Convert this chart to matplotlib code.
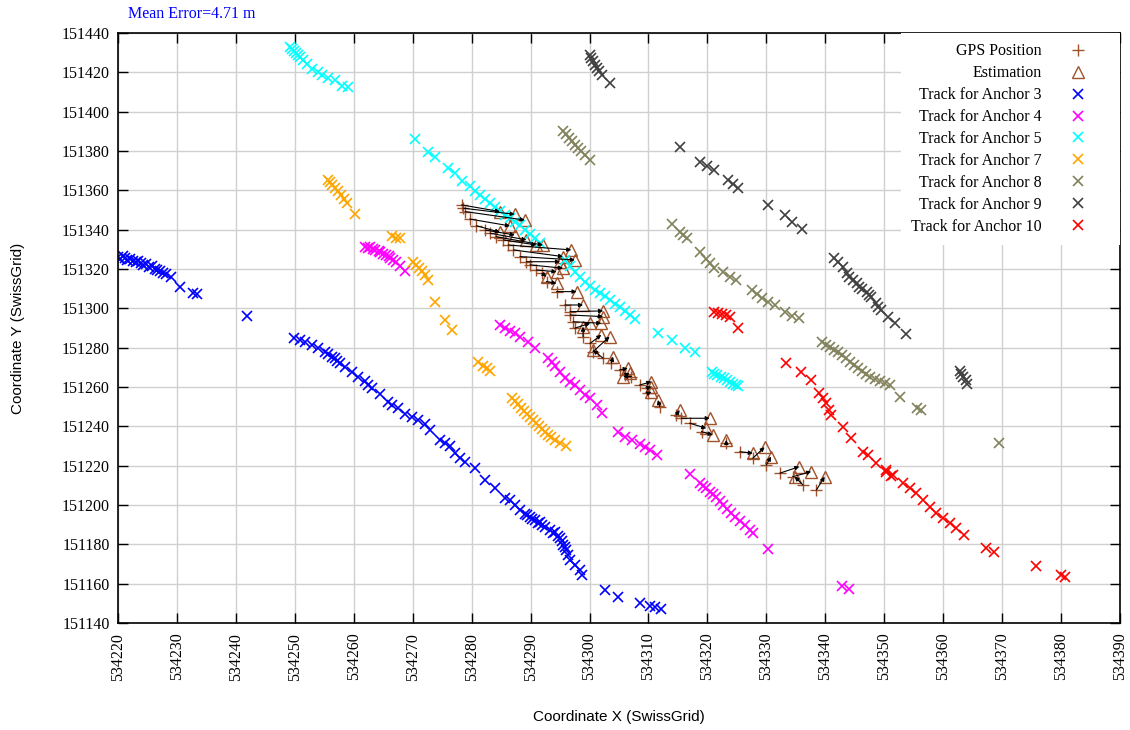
import numpy as np
import matplotlib
matplotlib.use("Agg")
import matplotlib.pyplot as plt

# GPS position -> estimated position (SwissGrid, m)
gps = [
    (534278.3, 151352.6), (534278.6, 151350.9), (534278.9, 151349.2), (534279.7, 151345.4),
    (534280.8, 151342.0), (534282.3, 151339.8), (534283.1, 151338.2), (534284.2, 151336.4),
    (534285.4, 151334.8), (534286.2, 151332.2), (534287.1, 151329.7), (534288.2, 151326.3),
    (534289.3, 151323.7), (534289.9, 151322.1), (534291.0, 151319.5), (534291.9, 151317.8),
    (534292.7, 151313.6), (534294.4, 151308.5), (534295.8, 151301.7), (534296.7, 151298.3),
    (534296.7, 151296.6), (534297.2, 151293.2), (534297.5, 151289.9), (534298.9, 151285.6),
    (534300.1, 151282.2), (534300.6, 151278.0), (534302.3, 151274.6), (534303.7, 151272.1),
    (534305.1, 151268.7), (534306.0, 151266.1), (534307.1, 151265.3), (534308.5, 151261.0),
    (534309.7, 151259.4), (534309.9, 151256.8), (534311.9, 151250.0), (534314.7, 151245.8),
    (534315.6, 151244.1), (534317.0, 151241.6), (534319.0, 151237.3), (534323.2, 151231.4),
    (534325.5, 151227.1), (534327.7, 151223.8), (534330.0, 151220.4), (534332.3, 151216.2),
    (534334.5, 151214.4), (534336.2, 151210.2), (534338.5, 151207.7),
]
est = [
    (534284.8, 151349.2), (534287.3, 151347.8), (534289.0, 151344.9), (534286.5, 151341.9),
    (534284.8, 151338.7), (534287.3, 151337.3), (534289.3, 151334.8), (534292.1, 151332.2),
    (534291.0, 151332.2), (534296.9, 151329.7), (534295.5, 151326.3), (534297.5, 151324.6),
    (534295.0, 151323.7), (534295.5, 151320.4), (534294.4, 151318.6), (534292.7, 151316.1),
    (534294.4, 151312.7), (534297.8, 151308.5), (534298.9, 151301.7), (534302.3, 151298.7),
    (534302.3, 151295.8), (534302.0, 151292.4), (534300.1, 151292.4), (534298.9, 151290.7),
    (534302.0, 151286.5), (534303.4, 151285.6), (534300.6, 151278.8), (534304.0, 151275.4),
    (534306.5, 151269.5), (534306.8, 151267.0), (534305.7, 151265.3), (534310.5, 151262.7),
    (534310.5, 151260.2), (534310.5, 151257.6), (534311.6, 151253.4), (534315.3, 151248.3),
    (534320.4, 151244.1), (534319.8, 151239.0), (534320.9, 151235.6), (534323.2, 151233.1),
    (534327.7, 151226.3), (534329.7, 151229.4), (534330.8, 151224.6), (534335.6, 151219.5),
    (534337.6, 151217.0), (534334.8, 151214.4), (534339.9, 151214.4),
]

anchor3 = [
    (534220.0, 151326.0), (534220.4, 151325.0), (534220.8, 151326.5), (534221.2, 151325.5),
    (534221.6, 151324.5), (534222.0, 151325.0), (534222.5, 151324.0), (534223.0, 151323.5),
    (534223.4, 151324.2), (534223.9, 151322.8), (534224.3, 151322.0), (534224.8, 151322.5),
    (534225.3, 151321.0), (534225.8, 151321.5), (534226.2, 151320.0), (534226.7, 151319.5),
    (534227.2, 151319.0), (534227.7, 151318.2), (534228.2, 151317.5), (534229.0, 151316.0),
    (534230.5, 151311.0), (534232.7, 151307.8), (534233.4, 151307.3), (534241.9, 151296.1),
    (534249.9, 151284.9), (534250.9, 151283.9), (534251.8, 151282.9), (534252.9, 151281.4),
    (534253.9, 151279.8), (534255.1, 151277.8), (534255.6, 151276.8), (534256.3, 151275.3),
    (534256.8, 151274.5), (534257.2, 151273.0), (534257.7, 151272.2), (534258.5, 151270.2),
    (534259.7, 151267.6), (534260.7, 151265.1), (534261.9, 151263.1), (534262.4, 151261.0),
    (534263.1, 151259.5), (534264.4, 151256.4), (534265.8, 151252.4), (534266.5, 151250.8),
    (534267.5, 151249.4), (534268.7, 151246.3), (534269.9, 151244.8), (534270.9, 151243.3),
    (534272.1, 151241.2), (534272.9, 151238.2), (534274.6, 151233.1), (534275.5, 151231.6),
    (534276.3, 151230.0), (534277.2, 151226.5), (534278.0, 151223.9), (534278.9, 151221.9),
    (534280.6, 151218.8), (534282.3, 151212.7), (534284.0, 151208.6), (534285.7, 151203.6),
    (534286.5, 151202.6), (534287.3, 151200.0), (534288.2, 151197.5), (534289.0, 151195.5),
    (534289.4, 151194.8), (534289.9, 151193.9), (534290.3, 151193.0), (534290.7, 151192.4),
    (534291.2, 151191.0), (534291.6, 151191.4), (534292.0, 151190.0), (534292.4, 151188.8),
    (534293.3, 151187.3), (534293.8, 151186.0), (534294.1, 151186.3), (534294.6, 151184.0),
    (534295.0, 151183.2), (534295.3, 151181.5), (534295.5, 151179.7), (534295.8, 151178.5),
    (534296.0, 151177.1), (534296.4, 151174.6), (534296.7, 151172.0), (534297.5, 151169.5),
    (534298.4, 151167.0), (534298.7, 151164.4), (534302.6, 151156.8), (534304.8, 151153.2),
    (534308.5, 151150.2), (534310.2, 151148.7), (534311.1, 151148.1), (534312.2, 151147.1),
]
anchor4 = [
    (534261.9, 151331.2), (534262.4, 151330.7), (534262.8, 151331.0), (534263.3, 151330.2),
    (534263.6, 151329.7), (534264.2, 151329.2), (534264.5, 151328.6), (534265.0, 151327.6),
    (534265.4, 151327.1), (534265.9, 151326.6), (534266.2, 151325.6), (534266.7, 151324.6),
    (534267.1, 151323.6), (534267.8, 151321.5), (534268.7, 151319.0),
    (534284.8, 151291.6), (534285.7, 151290.0), (534286.5, 151288.5), (534287.3, 151287.5),
    (534288.2, 151285.5), (534289.5, 151282.9), (534290.7, 151279.9), (534292.9, 151274.8),
    (534293.6, 151272.7), (534294.1, 151270.7), (534295.0, 151267.6), (534295.8, 151264.6),
    (534296.7, 151262.6), (534297.5, 151261.0), (534298.4, 151258.5), (534299.2, 151255.9),
    (534300.1, 151254.4), (534301.2, 151250.8), (534302.1, 151246.8), (534304.8, 151237.2),
    (534306.0, 151234.6), (534307.2, 151233.1), (534308.5, 151231.0), (534309.4, 151229.5),
    (534310.2, 151228.0), (534311.4, 151225.4),
    (534317.0, 151215.8), (534318.7, 151211.2), (534319.2, 151209.7), (534319.7, 151208.7),
    (534320.4, 151206.7), (534320.9, 151205.6), (534321.4, 151204.1), (534322.1, 151202.1),
    (534322.6, 151200.0), (534323.3, 151198.0), (534324.0, 151196.0), (534324.6, 151193.9),
    (534325.5, 151191.9), (534326.3, 151189.9), (534327.2, 151187.3), (534327.7, 151185.8),
    (534330.2, 151177.7), (534342.9, 151158.9), (534344.1, 151157.3),
]
anchor5 = [
    (534249.2, 151432.9), (534249.5, 151431.9), (534249.9, 151430.8), (534250.2, 151429.8),
    (534250.6, 151428.8), (534250.9, 151427.8), (534251.4, 151426.3), (534252.1, 151424.2),
    (534252.9, 151421.7), (534253.9, 151420.2), (534254.6, 151418.6), (534255.6, 151417.1),
    (534256.8, 151416.1), (534258.0, 151413.1), (534259.0, 151412.5),
    (534270.4, 151386.1), (534272.6, 151379.5), (534273.8, 151377.0), (534276.0, 151371.4),
    (534277.2, 151368.8), (534278.4, 151364.8), (534279.7, 151362.2), (534280.6, 151359.7),
    (534281.4, 151357.7), (534282.3, 151355.6), (534283.1, 151353.6), (534284.0, 151351.6),
    (534284.8, 151349.5), (534285.7, 151347.5), (534286.5, 151346.0), (534287.3, 151343.9),
    (534288.2, 151342.4), (534289.0, 151339.9), (534289.9, 151337.8), (534290.7, 151335.8),
    (534291.6, 151333.3), (534295.8, 151324.6), (534296.7, 151321.5), (534297.5, 151318.5),
    (534298.4, 151316.0), (534299.2, 151313.4), (534300.1, 151311.4), (534300.9, 151309.4),
    (534301.8, 151307.8), (534302.6, 151306.3), (534303.5, 151304.3), (534304.3, 151302.2),
    (534305.1, 151300.7), (534306.0, 151298.7), (534306.8, 151296.6), (534307.7, 151294.6),
    (534311.6, 151287.5), (534314.0, 151283.9), (534316.2, 151279.9), (534317.9, 151277.8),
    (534320.7, 151267.7), (534321.2, 151266.7), (534321.7, 151266.2), (534322.3, 151265.2),
    (534322.8, 151264.6), (534323.3, 151263.6), (534323.8, 151262.6), (534324.3, 151261.6),
    (534324.8, 151261.0), (534325.2, 151260.5),
]
anchor7 = [
    (534255.6, 151365.3), (534256.0, 151364.2), (534256.3, 151362.7), (534256.8, 151361.2),
    (534257.3, 151359.7), (534257.9, 151357.7), (534258.4, 151355.6), (534258.9, 151353.6),
    (534260.2, 151348.0),
    (534266.5, 151336.8), (534267.2, 151335.8), (534267.8, 151335.8),
    (534270.1, 151323.6), (534270.6, 151322.1), (534271.1, 151320.5), (534271.6, 151319.0),
    (534272.1, 151317.0), (534272.6, 151314.4), (534273.8, 151303.2), (534275.5, 151294.1),
    (534276.7, 151289.0),
    (534281.1, 151272.7), (534281.9, 151270.7), (534282.6, 151269.7), (534283.1, 151268.2),
    (534286.8, 151254.4), (534287.3, 151252.9), (534287.8, 151251.3), (534288.4, 151249.3),
    (534288.9, 151247.8), (534289.4, 151246.3), (534289.9, 151244.8), (534290.4, 151243.3),
    (534290.9, 151241.7), (534291.4, 151240.2), (534291.9, 151238.7), (534292.4, 151237.2),
    (534293.0, 151235.6), (534293.5, 151234.6), (534294.1, 151233.1), (534295.0, 151231.6),
    (534296.0, 151230.0),
]
anchor8 = [
    (534295.5, 151390.2), (534296.0, 151388.7), (534296.5, 151386.6), (534297.0, 151385.1),
    (534297.5, 151383.1), (534298.0, 151381.5), (534298.5, 151380.0), (534299.2, 151378.0),
    (534300.1, 151375.4),
    (534314.0, 151342.9), (534315.3, 151338.8), (534315.8, 151337.3), (534316.5, 151335.8),
    (534318.7, 151328.6), (534319.7, 151325.1), (534320.4, 151323.1), (534321.2, 151320.5),
    (534322.6, 151318.5), (534323.8, 151316.0), (534324.8, 151314.4),
    (534327.5, 151309.3), (534328.4, 151307.3), (534329.2, 151305.3), (534330.2, 151303.2),
    (534331.4, 151301.7), (534333.1, 151298.2), (534334.3, 151296.1), (534335.6, 151295.1),
    (534339.4, 151282.9), (534340.1, 151281.4), (534340.8, 151280.4), (534341.5, 151278.8),
    (534342.1, 151277.8), (534342.8, 151276.3), (534343.5, 151274.8), (534344.2, 151272.7),
    (534344.9, 151271.2), (534345.5, 151269.7), (534346.2, 151268.2), (534346.9, 151266.6),
    (534347.6, 151265.1), (534348.4, 151264.1), (534349.2, 151263.1), (534350.1, 151262.1),
    (534350.9, 151261.0), (534352.6, 151254.9), (534355.5, 151249.3), (534356.3, 151248.3),
    (534369.5, 151231.6),
]
anchor9 = [
    (534300.1, 151428.8), (534300.3, 151427.3), (534300.6, 151425.8), (534300.9, 151423.7),
    (534301.3, 151422.2), (534301.6, 151420.7), (534302.1, 151418.6), (534303.5, 151414.6),
    (534315.3, 151382.0), (534318.7, 151374.4), (534319.9, 151372.4), (534321.1, 151370.3),
    (534323.5, 151365.3), (534324.3, 151363.2), (534325.2, 151361.2), (534330.2, 151352.6),
    (534333.1, 151347.5), (534334.3, 151343.9), (534336.0, 151340.4),
    (534341.5, 151325.5), (534342.2, 151323.6), (534343.0, 151321.2), (534343.6, 151317.8),
    (534344.1, 151316.0), (534344.7, 151314.4), (534345.3, 151312.9), (534345.8, 151311.0),
    (534346.3, 151309.9), (534347.0, 151308.5), (534347.5, 151306.8), (534347.8, 151305.9),
    (534348.6, 151302.6), (534349.0, 151300.7), (534349.5, 151299.2), (534350.6, 151295.8),
    (534351.8, 151292.4), (534353.7, 151286.9),
    (534362.8, 151268.2), (534363.1, 151266.7), (534363.4, 151265.2), (534363.8, 151263.6),
    (534364.1, 151261.6),
]
anchor10 = [
    (534321.1, 151298.2), (534321.8, 151297.7), (534322.5, 151297.2), (534323.2, 151296.7),
    (534323.9, 151295.7), (534325.2, 151290.0),
    (534333.3, 151272.1), (534335.9, 151267.8), (534337.6, 151263.6), (534339.0, 151256.8),
    (534339.6, 151254.3), (534340.2, 151251.7), (534340.7, 151248.3), (534341.0, 151245.8),
    (534343.0, 151239.8), (534344.4, 151234.0), (534346.4, 151227.1), (534347.3, 151225.5),
    (534348.6, 151221.2), (534350.3, 151217.8), (534351.5, 151215.3), (534350.3, 151217.0),
    (534351.2, 151214.7), (534353.2, 151211.1), (534354.3, 151208.5), (534355.4, 151206.0),
    (534356.5, 151202.6), (534357.7, 151199.2), (534358.8, 151195.8), (534359.9, 151193.3),
    (534361.1, 151190.7), (534362.2, 151188.2), (534363.6, 151184.8), (534367.3, 151178.0),
    (534368.7, 151176.3), (534375.8, 151169.0), (534380.0, 151164.4), (534380.6, 151163.6),
]

tracks = [
    ("Track for Anchor 3", anchor3, "#0000ff"),
    ("Track for Anchor 4", anchor4, "#ff00ff"),
    ("Track for Anchor 5", anchor5, "#00ffff"),
    ("Track for Anchor 7", anchor7, "#ffa500"),
    ("Track for Anchor 8", anchor8, "#82825c"),
    ("Track for Anchor 9", anchor9, "#404040"),
    ("Track for Anchor 10", anchor10, "#ff0000"),
]
brown = "#a0522d"
serif = "Liberation Serif"
sans = "Liberation Sans"

fig = plt.figure(figsize=(11.3, 7.3), dpi=100)
ax = fig.add_axes([118 / 1130, 1 - 623 / 730, 1002 / 1130, 590 / 730])

gps = np.array(gps)
est = np.array(est)
for (gx, gy), (ex, ey) in zip(gps, est):
    ax.annotate("", xy=(ex, ey), xytext=(gx, gy),
                arrowprops=dict(arrowstyle="-|>", color="black", lw=0.8,
                                mutation_scale=6, shrinkA=0, shrinkB=0))
ax.plot(gps[:, 0], gps[:, 1], "+", color=brown, ms=8, mew=1.0, ls="none", label="GPS Position")
ax.plot(est[:, 0], est[:, 1], "^", mfc="none", mec=brown, ms=8, mew=1.0, ls="none", label="Estimation")

for name, pts, col in tracks:
    pts = np.array(pts)
    ax.plot(pts[:, 0], pts[:, 1], "x", color=col, ms=7, mew=1.2, ls="none", label=name)

ax.set_xlim(534220, 534390)
ax.set_ylim(151140, 151440)
ax.set_xticks(np.arange(534220, 534391, 10))
ax.set_yticks(np.arange(151140, 151441, 20))
ax.ticklabel_format(useOffset=False, style="plain")
ax.grid(True, color="#d0d0d0", lw=1)
ax.set_axisbelow(True)
ax.tick_params(direction="in", length=7, width=1, top=True, right=True, labelsize=11.5)
ax.tick_params(axis="y", pad=6)
ax.tick_params(axis="x", rotation=90, pad=7)
for lab in ax.get_xticklabels() + ax.get_yticklabels():
    lab.set_fontfamily(serif)
for s in ax.spines.values():
    s.set_linewidth(1.2)

leg = ax.legend(loc="upper right", bbox_to_anchor=(1.0, 1.0), markerfirst=False,
                prop={"family": serif, "size": 11.5}, frameon=True, fancybox=False,
                edgecolor="none", facecolor="white", framealpha=1,
                handlelength=4.0, handletextpad=0.25, labelspacing=0.37,
                borderaxespad=0.0, borderpad=0.65)
leg._legend_box._children[-1]._children[0].align = "right"

fig.text(128 / 1130, 1 - 14 / 730, "Mean Error=4.71 m", color="#0000ff",
         family=serif, fontsize=11.5, va="center", ha="left")
fig.text(619 / 1130, 1 - 717 / 730, "Coordinate X (SwissGrid)", family=sans,
         fontsize=11, ha="center", va="center")
fig.text(18 / 1130, 1 - 328 / 730, "Coordinate Y (SwissGrid)", family=sans,
         fontsize=11, ha="center", va="center", rotation=90)

fig.savefig("out.png", dpi=100)
